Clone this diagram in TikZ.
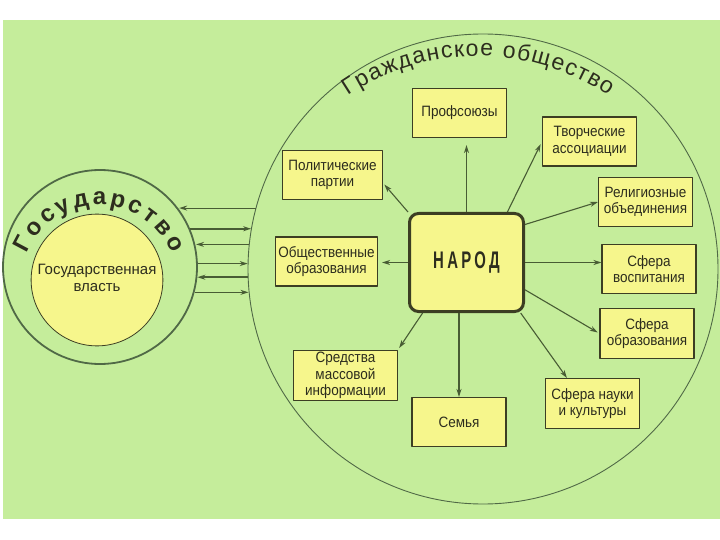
\documentclass[tikz,border=0pt]{standalone}
\usepackage{fontspec}
\setmainfont{Liberation Sans}
\newfontfamily\boxfont[FakeStretch=0.9]{Liberation Sans}
\newfontfamily\narodfont[FakeStretch=0.62,LetterSpace=14]{Liberation Sans}
\usetikzlibrary{arrows.meta,decorations.text}

\definecolor{bgGreen}{RGB}{197,237,155}
\definecolor{boxYellow}{RGB}{246,246,140}
\definecolor{lineDark}{RGB}{60,62,35}
\definecolor{arrowGreen}{RGB}{72,92,52}
\definecolor{ringGreen}{RGB}{80,105,70}
\definecolor{txtDark}{RGB}{45,45,30}

\newcommand\civfont{\fontsize{23}{23}\selectfont}
\newcommand\statefont{\fontsize{24}{24}\selectfont\bfseries}

\begin{document}
\begin{tikzpicture}[x=1pt, y=-1pt, line join=round, >={Stealth[length=8pt,width=5pt]},
    unit/.style={draw=lineDark, line width=1.1pt, fill=boxYellow, minimum width=94pt, minimum height=49pt,
      align=center, inner sep=2pt, text=txtDark, font=\boxfont\fontsize{15}{16.5}\selectfont},
    link/.style={draw=arrowGreen, line width=1.1pt, ->},
    ring/.style={circle, draw=ringGreen, inner sep=0pt}]
    \useasboundingbox (0,0) rectangle (720,540);
    \fill[white] (0,0) rectangle (720,540);
    \fill[bgGreen] (3,20) rectangle (720,519);

    % civil society
    \node[ring, line width=.9pt, minimum size=470pt] (civ) at (483,269) {};
    \path[decorate, decoration={text along path, text align={fit to path}, text color=txtDark,
        text={|\civfont|Гражданское общество}}]
        (478,289) ++(-124:233) arc[start angle=-124, end angle=-56, radius=233];

    % state
    \node[ring, line width=1.8pt, minimum size=194pt] (state) at (100,267) {};
    \node[circle, draw=lineDark, line width=.8pt, fill=boxYellow, minimum size=131pt,
        text=txtDark, font=\fontsize{15}{17}\selectfont] (power) at (97,280)
        {\raisebox{-4pt}{\begin{tabular}{@{}c@{}}Государственная\\власть\end{tabular}}};
    \path[decorate, decoration={text along path, text align={fit to path}, text color=txtDark,
        text={|\statefont|Государство}}]
        (99,284) ++(-157:79) arc[start angle=-157, end angle=-23, radius=79];

    % arrows between state and society
    \foreach \s/\c/\w in {36/165.5/1.1, 11.9/174.6/1.1, -6.5/182.2/1.8}
        \draw[link, line width=\w pt] (civ.\c) -- (state.\s |- civ.\c);
    \foreach \s/\c/\w in {23.1/170.2/1.8, 2.4/178.5/1.1, -15.5/185.9/1.1}
        \draw[link, line width=\w pt] (state.\s) -- (civ.\c |- state.\s);

    % people and its unions
    \node[draw=lineDark, line width=3pt, fill=boxYellow, rounded corners=9pt, minimum width=114pt,
        minimum height=98pt, text=txtDark, font=\narodfont\bfseries\fontsize{24}{24}\selectfont]
        (narod) at (466.5,262.5) {НАРОД};
    \node[unit] (prof) at (459.5,113) {Профсоюзы};
    \node[unit] (tvor) at (589.5,141.5) {Творческие\\ассоциации};
    \node[unit, minimum width=100pt] (polit) at (332.5,175) {Политические\\партии};
    \node[unit] (relig) at (645.5,202) {Религиозные\\объединения};
    \node[unit, minimum width=102pt] (obsch) at (326.5,261.5) {Общественные\\образования};
    \node[unit] (vosp) at (649,269) {Сфера\\воспитания};
    \node[unit, minimum height=50pt] (obraz) at (647,333.5) {Сфера\\образования};
    \node[unit, minimum width=104pt, minimum height=50pt] (smi) at (345.5,375.5) {Средства\\массовой\\информации};
    \node[unit] (sem) at (459,422) {Семья};
    \node[unit, minimum height=50pt] (nauk) at (592.5,403.5) {Сфера науки\\и культуры};

    \draw[link, shorten >=7pt] (narod.north) -- (narod.north |- prof.south);
    \draw[link, shorten >=2pt] (narod.north west) -- (polit.-9);
    \draw[link, shorten >=3pt] (narod.51) -- (tvor.west);
    \draw[link] (narod.33) -- (relig.west);
    \draw[link, shorten >=4pt] (narod.west) -- (narod.west -| obsch.east);
    \draw[link] (narod.east) -- (narod.east -| vosp.west);
    \draw[link, shorten >=2pt] (narod.-25) -- (obraz.west);
    \draw[link] (narod.-43) -- (nauk.135);
    \draw[link] (narod.south -| sem.north) -- (sem.north);
    \draw[link, shorten >=2pt] (narod.-131) -- (smi.north east);
\end{tikzpicture}
\end{document}
